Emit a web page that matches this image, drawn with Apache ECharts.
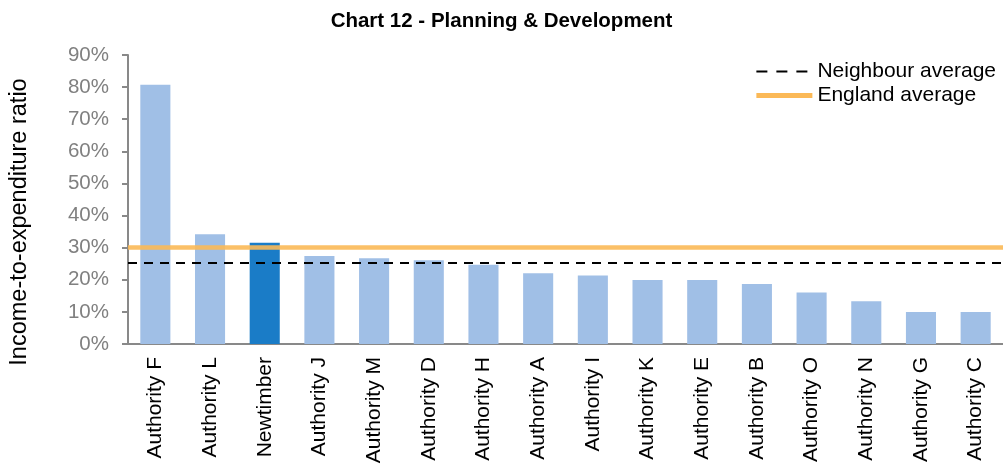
<!DOCTYPE html>
<html><head><meta charset="utf-8">
<script src="https://cdn.jsdelivr.net/npm/echarts@6/dist/echarts.min.js"></script>
<style>html,body{margin:0;padding:0;background:#fff}#c{width:1003px;height:469px}</style>
</head><body><div id="c"></div>
<script>
const categories = ['Authority F','Authority L','Newtimber','Authority J','Authority M','Authority D','Authority H','Authority A','Authority I','Authority K','Authority E','Authority B','Authority O','Authority N','Authority G','Authority C'];
const ratios = [80.7, 34.2, 31.5, 27.4, 26.7, 26.1, 24.7, 22.0, 21.3, 19.9, 19.9, 18.7, 16.0, 13.3, 10.0, 10.0];
const highlight = 'Newtimber';
const neighbourAverage = 25.2;
const englandAverage = 30.0;
const yTicks = [0,10,20,30,40,50,60,70,80,90];
const yAxisTitle = 'Income-to-expenditure ratio';

const chart = echarts.init(document.getElementById('c'));
const font = 'Liberation Sans, Arial, sans-serif';
chart.setOption({
  animation: false,
  textStyle: {fontFamily: font},
  title: {text: 'Chart 12 - Planning & Development', left: 'center', top: 6,
    textStyle: {fontFamily: font, fontSize: 20.5, fontWeight: 'bold', color: '#000'}},
  legend: {right: 2, top: 56, orient: 'vertical', itemGap: 3, itemWidth: 56, itemHeight: 14,
    itemStyle: {opacity: 0},
    textStyle: {fontFamily: font, fontSize: 21, color: '#000'},
    data: [
      {name: 'Neighbour average', lineStyle: {color: '#000', type: [11, 9], width: 2}},
      {name: 'England average', lineStyle: {color: '#fbb957', type: 'solid', width: 5}}
    ]},
  graphic: [{type: 'text', x: 20, y: 222, rotation: Math.PI / 2,
    style: {text: yAxisTitle, font: '23.5px ' + font, fill: '#000', align: 'center', verticalAlign: 'middle'}}],
  grid: {left: 128, right: 0, top: 55, bottom: 125},
  xAxis: {type: 'category', data: categories,
    axisLine: {lineStyle: {color: '#898989', width: 2}},
    axisTick: {show: false},
    axisLabel: {rotate: 90, interval: 0, color: '#000', fontSize: 21, fontFamily: font, margin: 13}},
  yAxis: {type: 'value', min: 0, max: 90, interval: 10,
    axisLine: {show: true, lineStyle: {color: '#898989', width: 2}},
    axisTick: {show: true, inside: false, length: 6, lineStyle: {color: '#898989', width: 2}},
    splitLine: {show: false},
    axisLabel: {formatter: v => yTicks.includes(v) ? v + '%' : '', color: '#808080', fontSize: 20.5, fontFamily: font, margin: 19}},
  series: [
    {type: 'bar', barCategoryGap: '45%',
      data: categories.map((c, i) => ({value: ratios[i],
        itemStyle: {color: c === highlight ? '#1a7cc7' : '#a0bfe6'}})),
      z: 2},
    {name: 'Neighbour average', type: 'line', data: [], symbol: 'none', z: 4,
      color: '#000',
      lineStyle: {color: '#000', type: [11, 9], width: 2},
      itemStyle: {color: '#000'},
      markLine: {silent: true, symbol: 'none', label: {show: false},
        lineStyle: {color: '#000', type: [9, 7], width: 2},
        data: [{yAxis: neighbourAverage}]}},
    {name: 'England average', type: 'line', data: [], symbol: 'none', z: 3,
      color: '#fbb957',
      lineStyle: {color: '#fbb957', width: 5},
      itemStyle: {color: '#fbb957'},
      markLine: {silent: true, symbol: 'none', label: {show: false},
        lineStyle: {color: '#fbb957', type: 'solid', width: 4.5, opacity: 0.9},
        data: [{yAxis: englandAverage}]}}
  ]
});
</script></body></html>
